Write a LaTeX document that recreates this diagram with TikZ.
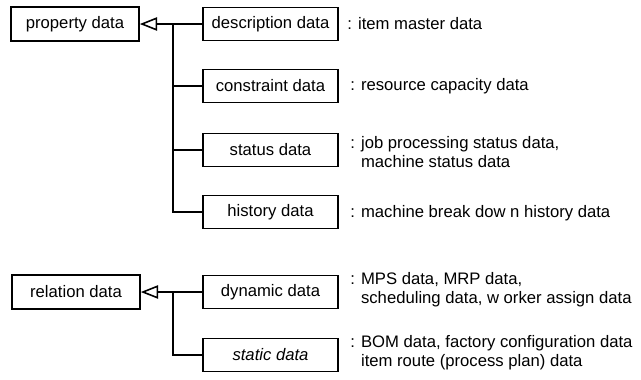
\documentclass[tikz,border=0pt]{standalone}
\usepackage{fontspec}
\setmainfont{Liberation Sans}
\usetikzlibrary{arrows.meta}
\begin{document}
\begin{tikzpicture}[x=0.75pt,y=-0.75pt,
  every node/.style={font=\fontsize{12.5}{14.5}\selectfont},
  box/.style={draw, line width=1.2pt, minimum width=101.25pt, minimum height=24.75pt, inner sep=0pt},
  parent/.style={box, minimum width=96pt, minimum height=25.5pt},
  lbl/.style={anchor=west, align=left, inner sep=0pt},
  conn/.style={line width=1.2pt},
  gen/.style={conn, -{Triangle[open, length=13pt, width=10pt, line width=1.2pt]}}]
\useasboundingbox (0,0) rectangle (641,379);
% parents
\node[parent] (prop) at (75,24) {property data};
\node[parent] (rel) at (76,292) {relation data};
% children
\node[box] (desc) at (270.5,24) {description data};
\node[box] (cons) at (270.5,86) {constraint data};
\node[box] (stat) at (270.5,150) {status data};
\node[box] (hist) at (270.5,212) {history data};
\node[box] (dyn) at (270.5,292) {dynamic data};
\node[box] (stc) at (270.5,355) {\itshape static data};
% junctions
\coordinate (j1) at (173,24);
\coordinate (j2) at (173,292);
% connectors
\draw[gen] (desc.west) -- (prop.east);
\draw[conn] (j1) |- (cons.west);
\draw[conn] (j1) |- (stat.west);
\draw[conn] (j1) |- (hist.west);
\draw[gen] (dyn.west) -- (rel.east);
\draw[conn] (j2) |- (stc.west);
% labels
\node[lbl] (l1) at (347,24) {: item master data};
\node[lbl] (l2) at (350,86) {: resource capacity data};
\node[lbl] (l3) at (350,152) {: job processing status data,\\\hphantom{: }machine status data};
\node[lbl] (l4) at (350,213) {: machine break dow n history data};
\node[lbl] (l5) at (350,290) {: MPS data, MRP data,\\\hphantom{: }scheduling data, w orker assign data};
\node[lbl] (l6) at (350,353) {: BOM data, factory configuration data\\\hphantom{: }item route (process plan) data};
\end{tikzpicture}
\end{document}
